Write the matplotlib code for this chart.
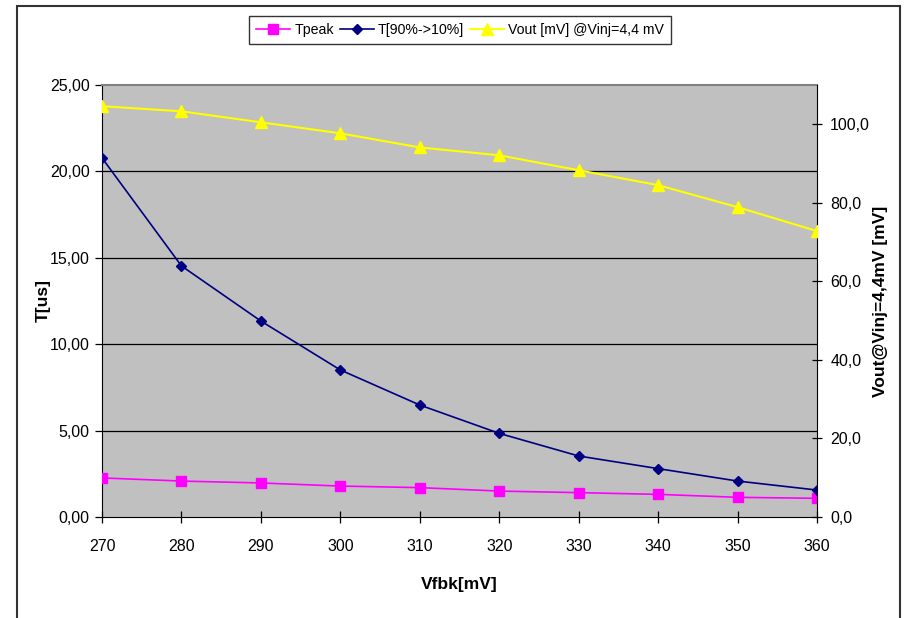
import matplotlib.pyplot as plt
from matplotlib.patches import Rectangle
from matplotlib.ticker import FuncFormatter

#data
vfbk = [270, 280, 290, 300, 310, 320, 330, 340, 350, 360]
tpeak = [2.26, 2.08, 1.97, 1.79, 1.70, 1.50, 1.41, 1.31, 1.14, 1.08]
t_fall = [20.78, 14.53, 11.34, 8.51, 6.48, 4.84, 3.53, 2.80, 2.08, 1.56]
vout = [104.6, 103.3, 100.5, 97.7, 94.1, 92.1, 88.3, 84.5, 78.9, 72.8]

plt.rcParams['font.family'] = ['Liberation Sans', 'DejaVu Sans']

fig = plt.figure(figsize=(9.05, 6.18), dpi=100)
W, H = 905, 618
#plot area in pixels: left 102, right 817, top 85, bottom 517
ax = fig.add_axes([102 / W, 1 - 517 / H, (817 - 102) / W, (517 - 85) / H])
ax2 = ax.twinx()

ax.set_facecolor('#C0C0C0')

#gridlines
for g in [5, 10, 15, 20]:
    ax.axhline(g, color='black', lw=0.9, zorder=1)

l1, = ax.plot(vfbk, tpeak, color='#FF00FF', marker='s', markersize=7,
              lw=1.2, label='Tpeak', zorder=3)
l2, = ax.plot(vfbk, t_fall, color='#000080', marker='D', markersize=5.5,
              lw=1.2, label='T[90%->10%]', zorder=3)
l3, = ax2.plot(vfbk, vout, color='#FFFF00', marker='^', markersize=8,
               lw=1.5, label='Vout [mV] @Vinj=4,4 mV', zorder=3)

ax.set_xlim(270, 360)
ax.set_ylim(0, 25)
ax2.set_ylim(0, 110)
ax.set_xticks(vfbk)
ax.set_yticks([0, 5, 10, 15, 20, 25])
ax2.set_yticks([0, 20, 40, 60, 80, 100])

ax.yaxis.set_major_formatter(FuncFormatter(lambda v, p: f"{v:.2f}".replace('.', ',')))
ax2.yaxis.set_major_formatter(FuncFormatter(lambda v, p: f"{v:.1f}".replace('.', ',')))

ax.tick_params(axis='x', direction='inout', length=9, width=0.9, pad=11, labelsize=11.5)
ax.tick_params(axis='y', direction='out', length=5, width=0.9, pad=4, labelsize=11.5)
ax2.tick_params(axis='y', direction='inout', length=7, width=0.9, pad=6, labelsize=11.5)

for s in ['left', 'bottom']:
    ax.spines[s].set_color('black')
ax.spines['top'].set_color('#808080')
ax.spines['top'].set_linewidth(1.5)
ax.spines['right'].set_visible(False)
ax2.spines['top'].set_visible(False)
ax2.spines['left'].set_visible(False)
ax2.spines['bottom'].set_visible(False)
ax2.spines['right'].set_color('black')

ax.set_xlabel('Vfbk[mV]', fontsize=12.5, fontweight='bold')
ax.set_ylabel('T[us]', fontsize=12.5, fontweight='bold')
ax2.set_ylabel('Vout@Vinj=4,4mV [mV]', fontsize=12.5, fontweight='bold')
ax.xaxis.set_label_coords(0.5, -0.14)
ax.yaxis.set_label_coords(-0.072, 0.5)
ax2.yaxis.set_label_coords(1.078, 0.5)

leg = fig.legend(handles=[l1, l2, l3], loc='center', ncol=3,
                 bbox_to_anchor=(460 / W, 1 - 30 / H), frameon=True,
                 fancybox=False, edgecolor='black', fontsize=10.2,
                 handlelength=2.4, handletextpad=0.3, columnspacing=0.4,
                 borderpad=0.5)
leg.get_frame().set_linewidth(1.0)

#outer chart border
fig.patches.append(Rectangle((16.5 / W, -0.05), (900 - 16.5) / W, 1 - 6.5 / H + 0.05,
                             transform=fig.transFigure, fill=False,
                             edgecolor='#333333', lw=1.5))

fig.savefig('out.png', dpi=100)
